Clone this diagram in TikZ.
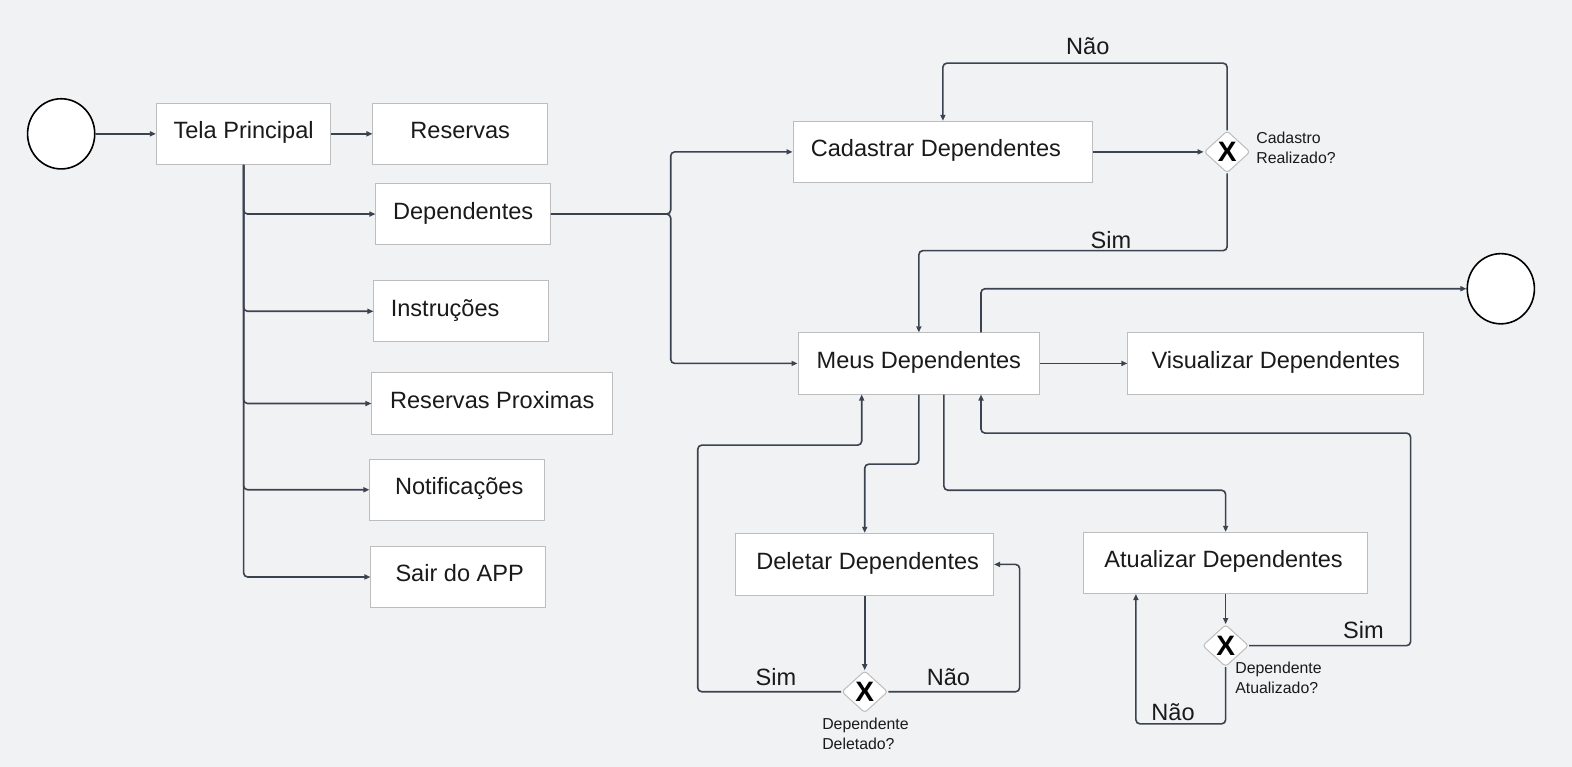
\documentclass[tikz,border=0pt]{standalone}
\usepackage{fontspec}
\setmainfont{Liberation Sans}
\usetikzlibrary{shapes.geometric,arrows.meta,calc}
\definecolor{bg}{HTML}{F1F2F4}
\definecolor{ln}{HTML}{3B4350}
\definecolor{bd}{HTML}{BDBDBD}
\definecolor{tx}{HTML}{1A1A1A}
\begin{document}
\begin{tikzpicture}[x=1pt,y=-1pt,
  box/.style={draw=bd,line width=1pt,fill=white,rectangle,inner sep=0pt,
    font=\fontsize{23.5}{28}\selectfont,text=tx,text height=17pt,text depth=7pt},
  gw/.style={diamond,draw=bd,fill=white,line width=1pt,minimum width=46pt,
    minimum height=42pt,inner sep=0pt,rounded corners=3pt},
  gx/.style={font=\fontsize{28}{28}\bfseries\selectfont,text=black,inner sep=0pt},
  circ/.style={ellipse,draw=black,line width=1.6pt,fill=white,minimum width=67pt,
    minimum height=70pt,inner sep=0pt},
  lab/.style={font=\fontsize{23.5}{28}\selectfont,text=tx,inner sep=0pt},
  small/.style={font=\fontsize{15.8}{20}\selectfont,text=tx,align=left,inner sep=0pt,anchor=west},
  arr/.style={draw=ln,line width=1.6pt,rounded corners=4pt,-{Triangle[length=6pt,width=5pt]}}]
\fill[bg] (0,0) rectangle (1568,765);
\useasboundingbox (0,0) rectangle (1568,765);

% start / end
\node[circ] (start) at (61,133.5) {};
\node[circ] (endc) at (1497,288) {};

% boxes
\node[box,minimum width=174pt,minimum height=61pt] (tela) at (243,133.5) {Tela Principal};
\node[box,minimum width=174pt,minimum height=61pt] (res) at (459,133.5) {Reservas};
\node[box,minimum width=174pt,minimum height=61pt] (dep) at (462,213.5) {Dependentes};
\node[box,minimum width=174pt,minimum height=61pt] (ins) at (460,310.5) {Instruções\kern32pt};
\node[box,minimum width=240pt,minimum height=61pt] (rp) at (491,402.5) {Reservas Proximas};
\node[box,minimum width=174pt,minimum height=61pt] (notif) at (456,488.5) {\kern4ptNotificações};
\node[box,minimum width=174pt,minimum height=61pt] (sair) at (457,575.5) {\kern3ptSair do APP};
\node[box,minimum width=299pt,minimum height=61pt] (cad) at (940.5,151.5) {Cadastrar Dependentes\kern14pt};
\node[box,minimum width=241pt,minimum height=61pt] (meus) at (916.5,362.5) {Meus Dependentes};
\node[box,minimum width=295pt,minimum height=61pt] (vis) at (1272.5,362.5) {Visualizar Dependentes};
\node[box,minimum width=257pt,minimum height=62pt] (del) at (862.5,563) {\kern6ptDeletar Dependentes};
\node[box,minimum width=283pt,minimum height=61pt] (atu) at (1222.5,561.5) {Atualizar Dependentes\kern4pt};

% gateways
\node[gw] (g1) at (1224,151.5) {};
\node[gx] (g1x) at (g1) {X};
\node[gw] (g2) at (862.5,690) {};
\node[gx] (g2x) at (g2) {X};
\node[gw] (g3) at (1222.5,644) {};
\node[gx] (g3x) at (g3) {X};

% gateway captions
\node[small] (c1t) at (1253,147) {Cadastro\\Realizado?};
\node[small] (c2t) at (820,732) {Dependente\\Deletado?};
\node[small] (c3t) at (1232,676) {Dependente\\Atualizado?};

% waypoints
\coordinate (j) at (669,213.5);
\coordinate (wTop) at (1224,63);
\coordinate (wSim) at (1000,250);
\coordinate (wDel) at (890,463);
\coordinate (wAtu) at (1100,489);
\coordinate (wL) at (696,444);
\coordinate (wR) at (1017,563);
\coordinate (wRR) at (1407,432);
\coordinate (wB) at (1133,722);

% connectors
\draw[arr] (start.east) -- (tela.west);
\draw[arr] (tela.east) -- (res.west);
\draw[arr] (tela.south) |- (dep.west);
\draw[arr] (tela.south) |- (ins.west);
\draw[arr] (tela.south) |- (rp.west);
\draw[arr] (tela.south) |- (notif.west);
\draw[arr] (tela.south) |- (sair.west);

\draw[arr] (dep.east) -- (j) |- (cad.west);
\draw[arr] (dep.east) -- (j) |- (meus.west);

\draw[arr] (cad.east) -- (g1.west);
\draw[arr] (g1.north) -- (wTop) -| (cad.north);
\draw[arr] (g1.south) |- (wSim) -| (meus.north);

\draw[arr] (meus.east) -- (vis.west);
\draw[arr] ([xshift=183pt]meus.north west) |- (endc.west);
\draw[arr] (meus.south) |- (wDel) -| (del.north);
\draw[arr] ([xshift=146pt]meus.south west) |- (wAtu) -| (atu.north);

\draw[arr] (del.south) -- (g2.north);
\draw[arr] (g2.west) -| (wL) -| ([xshift=64pt]meus.south west);
\draw[arr] (g2.east) -| (wR) -- (del.east);

\draw[arr] (atu.south) -- (g3.north);
\draw[arr] (g3.east) -| (wRR) -| ([xshift=183pt]meus.south west);
\draw[arr] (g3.south) |- (wB) -- (wB |- atu.south);

% branch labels
\node[lab] (l1) at (1085,46) {Não};
\node[lab] (l2) at (1108,239) {Sim};
\node[lab] (l3) at (774,675) {Sim};
\node[lab] (l4) at (946,675) {Não};
\node[lab] (l5) at (1360,628) {Sim};
\node[lab] (l6) at (1170,710) {Não};
\end{tikzpicture}
\end{document}
